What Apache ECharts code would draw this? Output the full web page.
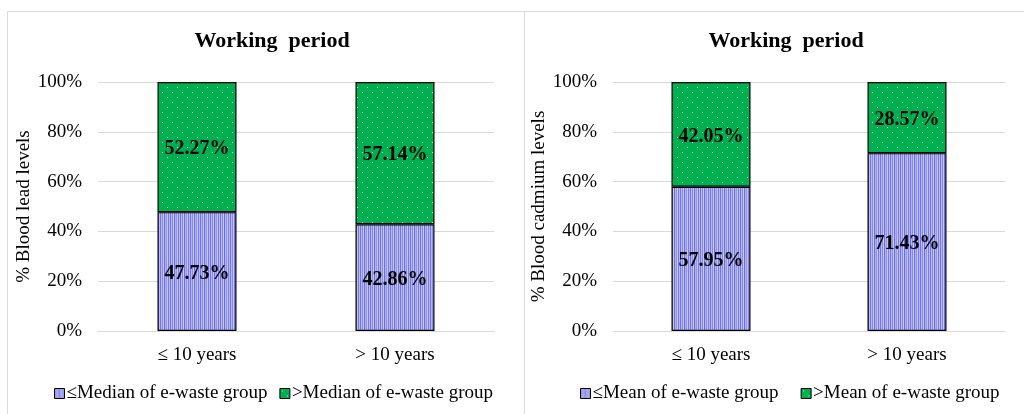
<!DOCTYPE html>
<html>
<head>
<meta charset="utf-8">
<style>
  html, body { margin: 0; padding: 0; background: #fff; }
  #chart { width: 1024px; height: 414px; }
</style>
<script src="https://cdn.jsdelivr.net/npm/echarts@6/dist/echarts.min.js"></script>
</head>
<body>
<div id="chart"></div>
<script>
// Working-period categories shared by both panels
const categories = ['≤ 10 years', '> 10 years'];

// Blood lead levels (% of group)
const leadLowName = '≤Median of e-waste group';
const leadHighName = '>Median of e-waste group';
const leadLow = [47.73, 42.86];
const leadHigh = [52.27, 57.14];

// Blood cadmium levels (% of group)
const cadLowName = '≤Mean of e-waste group';
const cadHighName = '>Mean of e-waste group';
const cadLow = [57.95, 71.43];
const cadHigh = [42.05, 28.57];

const panelTitle = 'Working  period';
const leadAxisName = '% Blood lead levels';
const cadAxisName = '% Blood cadmium levels';

const FONT = '"Liberation Serif", "Times New Roman", serif';

// Vertical stripe fill (blue / lavender / sage)
function stripePattern() {
  const cols = ['#7070ff', '#b8b8f4', '#8686ff', '#c8d4ba', '#6a6afa', '#b0b0f2', '#9292ff', '#c2ccc4', '#7878ff', '#bcbcf0'];
  const c = document.createElement('canvas');
  c.width = cols.length; c.height = 4;
  const g = c.getContext('2d');
  cols.forEach((col, i) => { g.fillStyle = col; g.fillRect(i, 0, 1, 4); });
  return c;
}
// Green fill with light dots
function dotPattern() {
  const c = document.createElement('canvas');
  c.width = 10; c.height = 10;
  const g = c.getContext('2d');
  g.fillStyle = '#00b050'; g.fillRect(0, 0, 10, 10);
  g.fillStyle = 'rgba(225,255,235,0.85)';
  g.fillRect(2, 2, 1, 1);
  g.fillRect(7, 7, 1, 1);
  return c;
}
const stripeFill = { image: stripePattern(), repeat: 'repeat' };
const dotFill = { image: dotPattern(), repeat: 'repeat' };

const chart = echarts.init(document.getElementById('chart'), null, { renderer: 'canvas' });

function xAxis(gridIndex) {
  return {
    type: 'category', gridIndex, data: categories,
    axisLine: { lineStyle: { color: '#d9d9d9' } },
    axisTick: { show: false },
    axisLabel: { color: '#000', fontFamily: FONT, fontSize: 19, margin: 15 }
  };
}
function yAxis(gridIndex, name, gap) {
  return {
    type: 'value', gridIndex, min: 0, max: 100, interval: 20,
    name, nameLocation: 'middle', nameGap: gap, nameRotate: 90,
    nameTextStyle: { color: '#000', fontFamily: FONT, fontSize: 19 },
    axisLine: { show: false }, axisTick: { show: false },
    axisLabel: { color: '#000', fontFamily: FONT, fontSize: 19, margin: 16, formatter: '{value}%' },
    splitLine: { lineStyle: { color: '#d9d9d9', width: 1 } }
  };
}
function barSeries(name, data, fill, idx, stack) {
  return {
    name, type: 'bar', stack, data,
    xAxisIndex: idx, yAxisIndex: idx,
    barWidth: 79,
    itemStyle: { color: fill, borderColor: '#000', borderWidth: 1.2 },
    label: {
      show: true, position: 'inside', offset: [0, 2], color: '#000',
      fontFamily: FONT, fontSize: 20, fontWeight: 'bold',
      formatter: p => p.value.toFixed(2) + '%'
    },
    emphasis: { disabled: true }
  };
}
function legend(names, left, gap) {
  return {
    data: names.map(n => ({ name: n })),
    left, bottom: 6,
    itemWidth: 10, itemHeight: 10, itemGap: gap,
    icon: 'rect',
    itemStyle: { borderColor: '#000', borderWidth: 1 },
    textStyle: { color: '#000', fontFamily: FONT, fontSize: 19, padding: [0, 0, 0, -3] }
  };
}

chart.setOption({
  animation: false,
  backgroundColor: '#fff',
  title: [
    { text: panelTitle, left: 267, top: 25, textAlign: 'center',
      textStyle: { fontFamily: FONT, fontSize: 22, fontWeight: 'bold', color: '#000' } },
    { text: panelTitle, left: 781, top: 25, textAlign: 'center',
      textStyle: { fontFamily: FONT, fontSize: 22, fontWeight: 'bold', color: '#000' } }
  ],
  grid: [
    { left: 98, right: 530, top: 82, bottom: 83 },
    { left: 613, right: 19, top: 82, bottom: 83 }
  ],
  xAxis: [xAxis(0), xAxis(1)],
  yAxis: [yAxis(0, leadAxisName, 63), yAxis(1, cadAxisName, 63)],
  legend: [
    legend([leadLowName, leadHighName], 49, 12),
    legend([cadLowName, cadHighName], 575, 22)
  ],
  series: [
    barSeries(leadLowName, leadLow, stripeFill, 0, 'lead'),
    barSeries(leadHighName, leadHigh, dotFill, 0, 'lead'),
    barSeries(cadLowName, cadLow, stripeFill, 1, 'cad'),
    barSeries(cadHighName, cadHigh, dotFill, 1, 'cad')
  ],
  graphic: [
    // panel frames
    { type: 'line', shape: { x1: 7.5, y1: 11.5, x2: 1024, y2: 11.5 }, style: { stroke: '#d9d9d9', lineWidth: 1 } },
    { type: 'line', shape: { x1: 7.5, y1: 11.5, x2: 7.5, y2: 414 }, style: { stroke: '#d9d9d9', lineWidth: 1 } },
    { type: 'line', shape: { x1: 524.5, y1: 11.5, x2: 524.5, y2: 414 }, style: { stroke: '#d9d9d9', lineWidth: 1 } }
  ]
});
</script>
</body>
</html>
